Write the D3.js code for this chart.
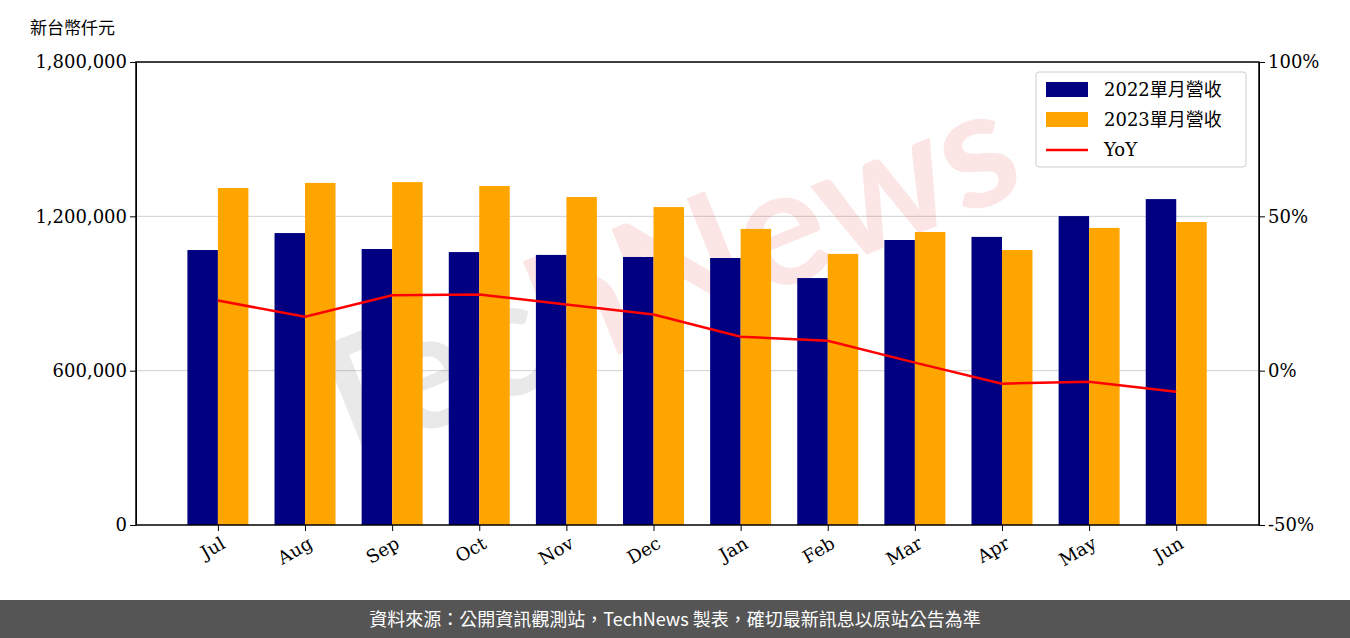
<!DOCTYPE html>
<html><head><meta charset="utf-8">
<script src="https://cdn.jsdelivr.net/npm/d3@7"></script>
<style>body{margin:0;background:#fff}svg{display:block}</style>
</head><body><svg id="c" width="1350" height="638"></svg>
<script>
// 資料
const months = ["Jul","Aug","Sep","Oct","Nov","Dec","Jan","Feb","Mar","Apr","May","Jun"]
const rev2022 = [1069000,1135000,1073000,1061000,1050000,1042000,1038000,960000,1108000,1120000,1201000,1267000]
const rev2023 = [1310000,1330000,1333000,1318000,1275000,1236000,1151000,1054000,1139000,1069000,1155000,1178000]
const yoy = [22.7,17.5,24.4,24.7,21.4,18.2,11.0,9.7,2.6,-4.2,-3.6,-6.8]
const leftTicks = [0,600000,1200000,1800000]
const rightTicks = [-50,0,50,100]

const svg = d3.select('#c')
const L = 136, R = 1259, T = 62, B = 525
const serif = "'DejaVu Serif', serif"
const cjk = "'Noto Sans CJK TC', sans-serif"

const x = d3.scaleLinear().domain([-0.94, 11.95]).range([L, R])
const y = d3.scaleLinear().domain([0, 1800000]).range([B, T])
const y2 = d3.scaleLinear().domain([-50, 100]).range([B, T])
const bw = x(0.35) - x(0)

// 格線
svg.selectAll('.grid').data([600000,1200000]).enter().append('line')
  .attr('x1', L).attr('x2', R).attr('y1', d => y(d)).attr('y2', d => y(d))
  .attr('stroke', '#d0d0d0').attr('stroke-width', 1)

// 浮水印
const wm = svg.append('text').attr('x', 680).attr('y', 330)
  .attr('transform', 'rotate(-22,680,330)')
  .attr('text-anchor', 'middle').attr('font-family', 'Lato, sans-serif')
  .attr('font-weight', 'bold').attr('font-size', 165).attr('opacity', 0.12)
wm.append('tspan').attr('fill', '#555').text('Tec')
wm.append('tspan').attr('fill', '#e03030').text('hNews')

svg.selectAll('.b22').data(rev2022).enter().append('rect')
  .attr('x', (d, i) => x(i) - bw).attr('width', bw)
  .attr('y', d => y(d)).attr('height', d => B - y(d)).attr('fill', '#000080')
svg.selectAll('.b23').data(rev2023).enter().append('rect')
  .attr('x', (d, i) => x(i)).attr('width', bw)
  .attr('y', d => y(d)).attr('height', d => B - y(d)).attr('fill', '#ffa500')

svg.append('path').datum(yoy)
  .attr('d', d3.line().x((d, i) => x(i)).y(d => y2(d)))
  .attr('fill', 'none').attr('stroke', 'red').attr('stroke-width', 2.5)

// 軸
const ax = svg.append('g').attr('transform', `translate(${L},0)`)
  .call(d3.axisLeft(y).tickValues(leftTicks).tickFormat(d3.format(',')).tickSizeOuter(0))
const ay = svg.append('g').attr('transform', `translate(${R},0)`)
  .call(d3.axisRight(y2).tickValues(rightTicks).tickFormat(d => d + '%').tickSizeOuter(0))
const xb = svg.append('g').attr('transform', `translate(0,${B})`)
  .call(d3.axisBottom(x).tickValues(d3.range(12)).tickFormat(i => months[i]).tickSizeOuter(0))
xb.select('.domain').remove()
svg.append('rect').attr('x', L).attr('y', T).attr('width', R - L).attr('height', B - T)
  .attr('fill', 'none').attr('stroke', '#000').attr('stroke-width', 1.5)
for (const g of [ax, ay, xb]) {
  g.selectAll('text').attr('font-family', serif).attr('font-size', 18).attr('fill', '#000')
  g.selectAll('.tick line').attr('stroke', '#000')
  g.select('.domain').attr('stroke', '#000')
}
xb.selectAll('text').attr('text-anchor', 'end').attr('dy', '0.4em')
  .attr('transform', 'translate(0,8) rotate(-30)')

svg.append('text').attr('x', 30).attr('y', 34).attr('font-family', cjk)
  .attr('font-size', 17).text('新台幣仟元')

// 圖例
const lg = svg.append('g').attr('transform', 'translate(1036,72)')
lg.append('rect').attr('width', 210).attr('height', 95).attr('rx', 3)
  .attr('fill', '#fff').attr('fill-opacity', 0.8).attr('stroke', '#ccc')
const items = [['2022單月營收', '#000080', 'bar'], ['2023單月營收', '#ffa500', 'bar'], ['YoY', 'red', 'line']]
items.forEach((it, i) => {
  const yy = 17 + i * 30
  if (it[2] == 'bar') lg.append('rect').attr('x', 10).attr('y', yy - 7).attr('width', 42).attr('height', 15).attr('fill', it[1])
  else lg.append('line').attr('x1', 10).attr('x2', 52).attr('y1', yy + 1).attr('y2', yy + 1).attr('stroke', it[1]).attr('stroke-width', 2.5)
  lg.append('text').attr('x', 68).attr('y', yy + 7).attr('font-family', serif + ",'Noto Sans CJK TC'")
    .attr('font-size', 18).text(it[0])
})

// 頁尾
svg.append('rect').attr('x', 0).attr('y', 600).attr('width', 1350).attr('height', 38).attr('fill', '#555')
svg.append('text').attr('x', 675).attr('y', 626).attr('text-anchor', 'middle').attr('fill', '#fff')
  .attr('font-family', cjk).attr('font-size', 18)
  .text('資料來源：公開資訊觀測站，TechNews 製表，確切最新訊息以原站公告為準')
</script></body></html>
